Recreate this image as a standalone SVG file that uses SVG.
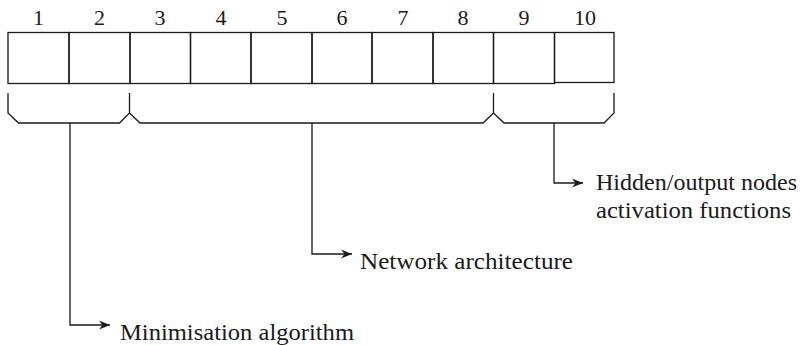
<svg xmlns="http://www.w3.org/2000/svg" width="803" height="345" viewBox="0 0 803 345">
<defs>
<style>
.ln{fill:none;stroke:#1a1a1a;stroke-width:1.3}
.num{font-family:"Liberation Serif","Times New Roman",serif;font-size:22px;fill:#1a1a1a;text-anchor:middle}
.lbl{font-family:"Liberation Serif","Times New Roman",serif;font-size:22.5px;fill:#1a1a1a}
</style>
<marker id="ah" viewBox="0 0 11 10" refX="11" refY="5" markerWidth="11" markerHeight="10" markerUnits="userSpaceOnUse" orient="auto">
<path d="M0,0.5 L11,5 L0,9.5 L3.5,5 z" fill="#1a1a1a"/>
</marker>
</defs>
<rect width="803" height="345" fill="#fff"/>
<g id="cells">
<g id="cell1"><rect class="ln" x="8" y="32.5" width="61" height="51"/><text class="num" x="38.5" y="25">1</text></g>
<g id="cell2"><rect class="ln" x="69" y="32.5" width="61" height="51"/><text class="num" x="99.5" y="25">2</text></g>
<g id="cell3"><rect class="ln" x="130" y="32.5" width="60.5" height="51"/><text class="num" x="160" y="25">3</text></g>
<g id="cell4"><rect class="ln" x="190.5" y="32.5" width="60.5" height="51"/><text class="num" x="221" y="25">4</text></g>
<g id="cell5"><rect class="ln" x="251" y="32.5" width="61" height="51"/><text class="num" x="282" y="25">5</text></g>
<g id="cell6"><rect class="ln" x="312" y="32.5" width="60" height="51"/><text class="num" x="342" y="25">6</text></g>
<g id="cell7"><rect class="ln" x="372" y="32.5" width="61" height="51"/><text class="num" x="403" y="25">7</text></g>
<g id="cell8"><rect class="ln" x="433" y="32.5" width="60.5" height="51"/><text class="num" x="463" y="25">8</text></g>
<g id="cell9"><rect class="ln" x="493.5" y="32.5" width="61" height="51"/><text class="num" x="524" y="25">9</text></g>
<g id="cell10"><rect class="ln" x="554.5" y="32.5" width="59.5" height="50"/><text class="num" x="585" y="25">10</text></g>
</g>
<g id="braces">
<path class="ln" d="M8,93 V113 L18.5,123 H119.5 L129.5,113 V93 M129.5,113 L140,123 H483 L493.5,113 V93 M493.5,113 L504,123 H604 L614,113 V93"/>
</g>
<g id="connectors">
<path class="ln" d="M70,123 V325 H110" marker-end="url(#ah)"/>
<path class="ln" d="M312,123 V254 H352" marker-end="url(#ah)"/>
<path class="ln" d="M554,123 V183 H583" marker-end="url(#ah)"/>
</g>
<g id="label-min"><text class="lbl" x="120" y="340" textLength="234" lengthAdjust="spacingAndGlyphs">Minimisation algorithm</text></g>
<g id="label-net"><text class="lbl" x="360" y="269" textLength="213" lengthAdjust="spacingAndGlyphs">Network architecture</text></g>
<g id="label-act"><text class="lbl" x="596" y="190" textLength="201" lengthAdjust="spacingAndGlyphs">Hidden/output nodes</text><text class="lbl" x="596" y="218" textLength="195" lengthAdjust="spacingAndGlyphs">activation functions</text></g>
</svg>
